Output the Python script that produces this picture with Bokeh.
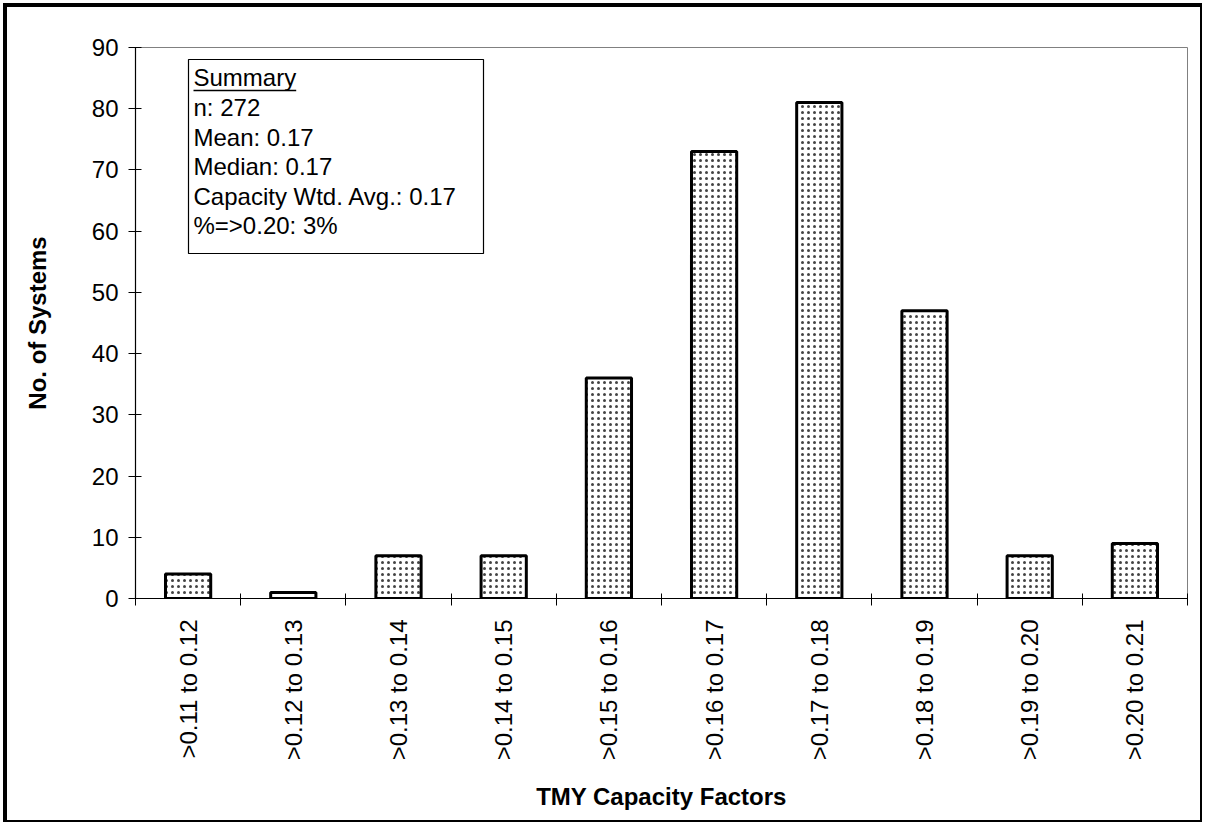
from bokeh.plotting import figure
from bokeh.models import FixedTicker, Range1d, Label, ColumnDataSource, BoxAnnotation
from bokeh.embed import file_html
from bokeh.resources import INLINE

categories = [">0.11 to 0.12", ">0.12 to 0.13", ">0.13 to 0.14", ">0.14 to 0.15",
              ">0.15 to 0.16", ">0.16 to 0.17", ">0.17 to 0.18", ">0.18 to 0.19",
              ">0.19 to 0.20", ">0.20 to 0.21"]
counts = [4, 1, 7, 7, 36, 73, 81, 47, 7, 9]
y_ticks = [0, 10, 20, 30, 40, 50, 60, 70, 80, 90]
summary_title = "Summary"
summary_lines = ["n: 272", "Mean: 0.17", "Median: 0.17",
                 "Capacity Wtd. Avg.: 0.17", "%=>0.20: 3%"]

FONT = "Liberation Sans"
n = len(categories)
centers = [i + 0.5 for i in range(n)]
src = ColumnDataSource(dict(x=centers, top=counts, cat=categories))

# content origin on page is (7, 7)
p = figure(width=1199, height=819, output_backend="svg", toolbar_location=None,
           x_range=Range1d(0, n), y_range=Range1d(0, 90),
           min_border_left=128, min_border_right=19, min_border_top=40,
           min_border_bottom=228)
p.styles = {"border-style": "solid", "border-color": "black",
            "border-width": "4px 2px 2px 4px",
            "margin-left": "3px", "margin-top": "3px"}
p.background_fill_color = "white"
p.border_fill_color = "white"
p.outline_line_color = "#808080"
p.outline_line_width = 1
p.grid.visible = False

p.vbar(x="x", top="top", width=0.43, bottom=0, source=src,
       fill_color="white", line_color="black", line_width=3,
       hatch_pattern="dot", hatch_color="#444444", hatch_scale=6, hatch_weight=1.8)

# x axis: labels at centers, tick marks at category boundaries
xa = p.xaxis[0]
xa.ticker = FixedTicker(ticks=centers, minor_ticks=list(range(n + 1)))
xa.major_label_overrides = {c: lab for c, lab in zip(centers, categories)}
xa.major_tick_in = 0
xa.major_tick_out = 0
xa.minor_tick_in = 5
xa.minor_tick_out = 7
xa.minor_tick_line_color = "black"
xa.minor_tick_line_width = 1
xa.major_label_orientation = 1.5707963
xa.major_label_standoff = 14
xa.major_label_text_font = FONT
xa.major_label_text_font_size = "24px"
xa.major_label_text_color = "black"
xa.axis_label = "TMY Capacity Factors"
xa.axis_label_text_font = FONT
xa.axis_label_text_font_style = "bold"
xa.axis_label_text_font_size = "24px"
xa.axis_label_text_color = "black"
xa.axis_label_standoff = 20
xa.axis_line_color = "black"
xa.axis_line_width = 1.2

ya = p.yaxis[0]
ya.ticker = FixedTicker(ticks=y_ticks)
ya.major_tick_in = 6
ya.major_tick_out = 7
ya.minor_tick_in = 0
ya.minor_tick_out = 0
ya.major_tick_line_color = "black"
ya.major_label_standoff = 10
ya.major_label_text_font = FONT
ya.major_label_text_font_size = "24px"
ya.major_label_text_color = "black"
ya.axis_label = "No. of Systems"
ya.axis_label_text_font = FONT
ya.axis_label_text_font_style = "bold"
ya.axis_label_text_font_size = "24px"
ya.axis_label_text_color = "black"
ya.axis_label_standoff = 38
ya.axis_line_color = "black"
ya.axis_line_width = 1.2

# Summary box (positions in page pixels converted to data units)
fx0, fy0 = 135, 598      # frame left / bottom (px, page)
px_x = (1187 - 135) / n
px_y = (598 - 47) / 90.0
def dx(px):
    return (px - fx0) / px_x
def dy(py):
    return (fy0 - py) / px_y

box = BoxAnnotation(left=dx(188), right=dx(483), top=dy(59), bottom=dy(253),
                    fill_color="white", fill_alpha=1.0, line_color="black",
                    line_alpha=1.0, line_width=1.2, level="underlay")
p.add_layout(box)

tx = dx(193)
baselines = [77, 107, 136.5, 166, 195.5, 225]
texts = [summary_title] + summary_lines
for t, b in zip(texts, baselines):
    p.add_layout(Label(x=tx, y=dy(b), text=t, text_font=FONT, text_font_size="24px",
                       text_color="black", text_baseline="alphabetic"))
# underline for "Summary"
p.segment(x0=[tx], y0=[dy(90)], x1=[tx + 102.7 / px_x], y1=[dy(90)],
          line_color="black", line_width=1.5)

open("out.html", "w").write(file_html(p, INLINE))
